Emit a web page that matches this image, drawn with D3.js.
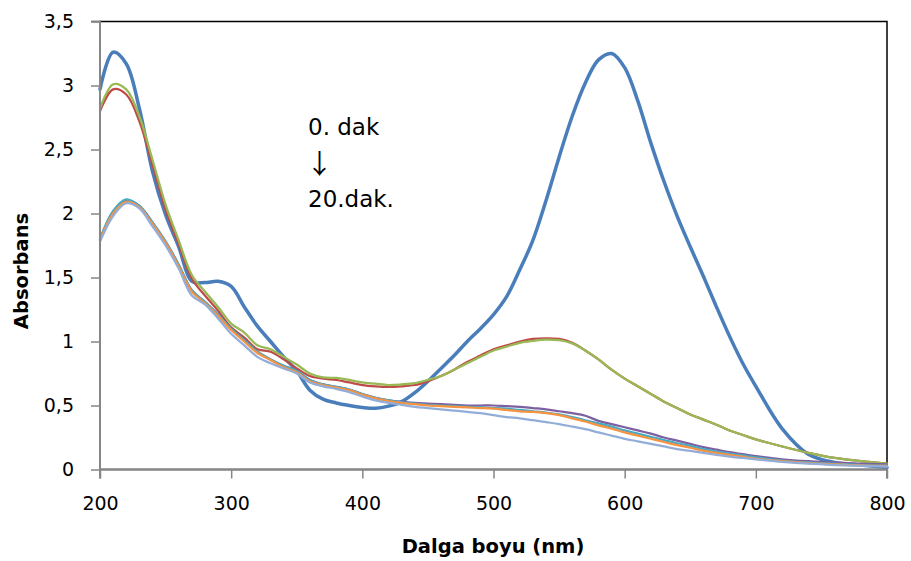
<!DOCTYPE html>
<html><head><meta charset="utf-8">
<script src="https://cdn.jsdelivr.net/npm/d3@7"></script>
<style>
body{margin:0;background:#fff;}
text{font-family:"DejaVu Sans", Verdana, sans-serif;fill:#000;}
</style></head>
<body><svg id="c" width="911" height="561"></svg>
<script>
const wavelengths = [200,210,220,230,240,250,260,270,280,290,300,310,320,330,340,350,360,370,380,390,400,410,420,430,440,450,460,470,480,490,500,510,520,530,540,550,560,570,580,590,600,610,620,630,640,650,660,670,680,690,700,720,740,760,780,800];
const seriesNames = ["0. dak","s2","s3","s4","s5","s6","20.dak."];
const s0 = [2.97,3.26,3.17,2.82,2.33,1.99,1.74,1.47,1.46,1.47,1.43,1.27,1.12,1.00,0.88,0.77,0.62,0.55,0.52,0.50,0.485,0.478,0.495,0.53,0.60,0.69,0.79,0.89,1.00,1.10,1.21,1.35,1.56,1.79,2.10,2.44,2.76,3.02,3.20,3.25,3.14,2.88,2.55,2.25,1.98,1.74,1.51,1.27,1.04,0.83,0.65,0.32,0.12,0.055,0.035,0.015];
const s1 = [2.80,2.97,2.93,2.72,2.38,2.03,1.76,1.49,1.36,1.24,1.11,1.03,0.94,0.92,0.86,0.79,0.73,0.71,0.70,0.68,0.66,0.65,0.645,0.65,0.66,0.69,0.73,0.78,0.84,0.89,0.94,0.97,1.00,1.02,1.025,1.02,0.99,0.93,0.86,0.78,0.71,0.65,0.59,0.53,0.48,0.43,0.39,0.35,0.305,0.27,0.235,0.18,0.13,0.09,0.065,0.045];
const s2 = [2.82,3.01,2.97,2.76,2.42,2.07,1.79,1.52,1.39,1.27,1.14,1.07,0.97,0.94,0.88,0.82,0.75,0.72,0.715,0.70,0.68,0.67,0.66,0.665,0.675,0.70,0.73,0.78,0.83,0.88,0.93,0.96,0.99,1.005,1.015,1.01,0.985,0.93,0.86,0.78,0.71,0.65,0.59,0.53,0.48,0.43,0.39,0.35,0.305,0.27,0.235,0.18,0.13,0.09,0.065,0.045];
const s3 = [1.80,2.01,2.10,2.06,1.93,1.78,1.60,1.40,1.31,1.21,1.10,1.01,0.92,0.86,0.81,0.77,0.70,0.665,0.645,0.625,0.59,0.56,0.54,0.528,0.52,0.515,0.51,0.505,0.50,0.50,0.50,0.495,0.49,0.48,0.47,0.455,0.44,0.42,0.38,0.355,0.33,0.305,0.28,0.25,0.225,0.20,0.175,0.155,0.135,0.12,0.105,0.08,0.065,0.055,0.045,0.04];
const s4 = [1.80,2.02,2.11,2.06,1.93,1.78,1.60,1.40,1.31,1.21,1.10,1.01,0.92,0.86,0.81,0.77,0.70,0.665,0.645,0.625,0.59,0.56,0.54,0.525,0.515,0.505,0.50,0.495,0.49,0.485,0.48,0.475,0.465,0.455,0.445,0.43,0.41,0.385,0.36,0.335,0.305,0.28,0.255,0.23,0.205,0.185,0.16,0.14,0.125,0.11,0.095,0.07,0.055,0.045,0.035,0.03];
const s5 = [1.79,2.00,2.09,2.05,1.92,1.77,1.59,1.39,1.30,1.20,1.09,1.00,0.91,0.855,0.80,0.76,0.69,0.66,0.64,0.62,0.585,0.555,0.535,0.52,0.51,0.50,0.495,0.49,0.485,0.48,0.475,0.465,0.455,0.45,0.44,0.425,0.40,0.375,0.345,0.32,0.29,0.265,0.24,0.215,0.19,0.17,0.145,0.13,0.115,0.10,0.085,0.065,0.05,0.04,0.032,0.028];
const s6 = [1.78,1.98,2.08,2.04,1.90,1.75,1.57,1.36,1.29,1.18,1.06,0.97,0.88,0.83,0.79,0.75,0.68,0.65,0.63,0.605,0.57,0.54,0.52,0.505,0.49,0.48,0.47,0.46,0.45,0.44,0.425,0.41,0.40,0.385,0.37,0.355,0.335,0.315,0.29,0.265,0.24,0.22,0.20,0.18,0.16,0.145,0.13,0.115,0.10,0.09,0.08,0.06,0.045,0.035,0.028,0.022];
const seriesValues = [s0,s1,s2,s3,s4,s5,s6];
const seriesColors = ["#4A7EBB","#BE4B48","#98B954","#7D60A0","#46AAC5","#F69240","#93ADD9"];
const seriesWidths = [3.5,2.25,2.25,2.25,2.25,2.25,2.25];
const xTicks = [200,300,400,500,600,700,800];
const yTicks = [0,0.5,1,1.5,2,2.5,3,3.5];
const annotation = ["0. dak","↓","20.dak."];

const svg = d3.select("#c");
const L=100, R=887, T=21.5, B=469.5;
const x = d3.scaleLinear().domain([200,800]).range([L,R]);
const y = d3.scaleLinear().domain([0,3.5]).range([B,T]);
const fmt = d => String(d).replace(".", ",");

// plot border
svg.append("rect").attr("x",L).attr("y",T).attr("width",R-L).attr("height",B-T)
  .attr("fill","none").attr("stroke","#000").attr("stroke-width",1.5);

// lines
const line = d3.line().curve(d3.curveCatmullRom.alpha(0.5));
seriesValues.forEach((vals,i)=>{
  svg.append("path")
    .attr("d", line(wavelengths.map((w,j)=>[x(w), y(vals[j])])))
    .attr("fill","none").attr("stroke",seriesColors[i]).attr("stroke-width",seriesWidths[i])
    .attr("stroke-linejoin","round").attr("stroke-linecap","round");
});

// axes
const yAxis = svg.append("g").attr("transform",`translate(${L},0)`)
  .call(d3.axisLeft(y).tickValues(yTicks).tickFormat(fmt).tickSize(9).tickPadding(17));
const xAxis = svg.append("g").attr("transform",`translate(0,${B})`)
  .call(d3.axisBottom(x).tickValues(xTicks).tickSize(9).tickPadding(18));
[yAxis,xAxis].forEach(g=>{
  g.select(".domain").attr("stroke","#868686").attr("stroke-width",2);
  g.selectAll(".tick line").attr("stroke","#868686").attr("stroke-width",1.5);
  g.selectAll(".tick text").style("font-size","19px").style("font-family","'DejaVu Sans', sans-serif").attr("fill","#000");
});
yAxis.select(".domain").attr("d",`M-9,${T}H0V${B}`);
xAxis.select(".domain").attr("d",`M${L},9V0H${R}V9`);

// titles
svg.append("text").attr("x",493).attr("y",553).attr("text-anchor","middle")
  .style("font-size","19.5px").style("font-weight","bold").text("Dalga boyu (nm)");
svg.append("text").attr("transform","translate(28,271) rotate(-90)").attr("text-anchor","middle")
  .style("font-size","19.5px").style("font-weight","bold").text("Absorbans");

// annotation
const ay = [135,174,207];
const asz = [23,27,23];
annotation.forEach((t,i)=>{
  const tx = svg.append("text").attr("x",i===1?306:308).attr("y",ay[i]).style("font-size",asz[i]+"px").text(t);
  if(i===1) tx.style("font-family","'Noto Sans CJK JP', 'Noto Sans', sans-serif");
});
</script></body></html>
